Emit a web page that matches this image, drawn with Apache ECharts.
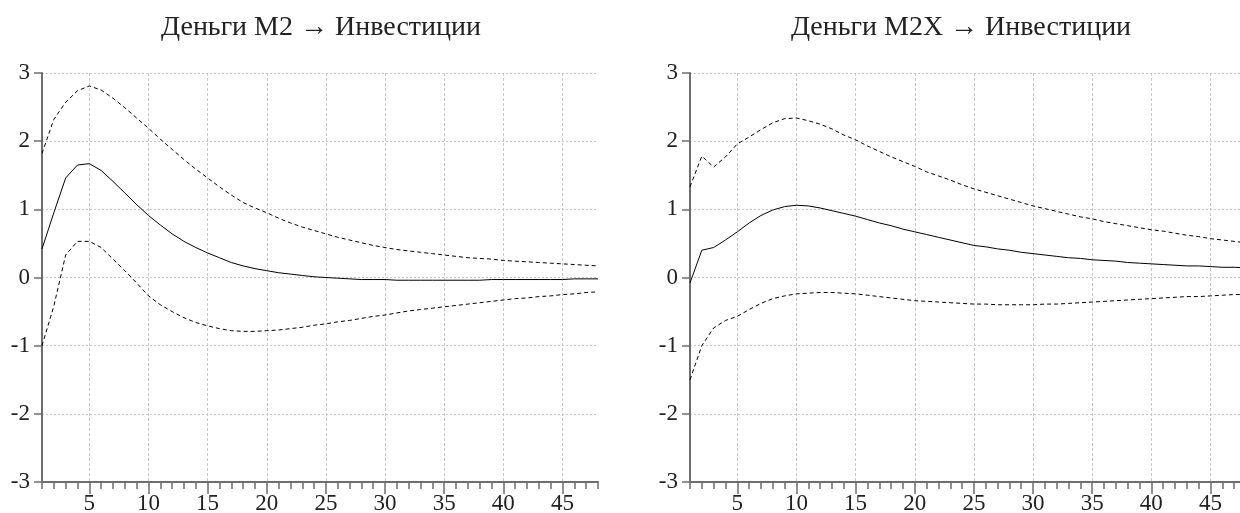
<!DOCTYPE html>
<html>
<head>
<meta charset="utf-8">
<script src="https://cdn.jsdelivr.net/npm/echarts@6/dist/echarts.min.js"></script>
<style>
html,body{margin:0;padding:0;background:#fff;}
#chart{width:1240px;height:513px;}
</style>
</head>
<body>
<div id="chart"></div>
<script>
const periods = ['1','2','3','4','5','6','7','8','9','10','11','12','13','14','15','16','17','18','19','20','21','22','23','24','25','26','27','28','29','30','31','32','33','34','35','36','37','38','39','40','41','42','43','44','45','46','47','48'];
const yTicks = [-3, -2, -1, 0, 1, 2, 3];

const titleLeft = 'Деньги M2 → Инвестиции';
const titleRight = 'Деньги M2X → Инвестиции';

// Left panel: M2 -> Investment
const m2Response = [0.42,0.95,1.46,1.65,1.67,1.57,1.41,1.24,1.07,0.91,0.77,0.64,0.53,0.44,0.36,0.29,0.22,0.17,0.13,0.10,0.07,0.05,0.03,0.01,0.00,-0.01,-0.02,-0.03,-0.03,-0.03,-0.04,-0.04,-0.04,-0.04,-0.04,-0.04,-0.04,-0.04,-0.03,-0.03,-0.03,-0.03,-0.03,-0.03,-0.03,-0.02,-0.02,-0.02];
const m2Upper = [1.82,2.32,2.57,2.74,2.81,2.75,2.63,2.49,2.34,2.19,2.03,1.88,1.73,1.59,1.46,1.33,1.21,1.10,1.02,0.95,0.87,0.80,0.74,0.69,0.64,0.59,0.55,0.51,0.47,0.44,0.41,0.39,0.37,0.35,0.33,0.31,0.29,0.28,0.27,0.25,0.24,0.23,0.22,0.21,0.20,0.19,0.18,0.17];
const m2Lower = [-1.00,-0.42,0.33,0.53,0.53,0.44,0.27,0.10,-0.08,-0.27,-0.40,-0.50,-0.59,-0.66,-0.71,-0.75,-0.78,-0.79,-0.79,-0.78,-0.77,-0.75,-0.73,-0.70,-0.68,-0.65,-0.63,-0.60,-0.57,-0.55,-0.52,-0.49,-0.47,-0.45,-0.43,-0.41,-0.39,-0.37,-0.35,-0.33,-0.31,-0.30,-0.28,-0.27,-0.25,-0.24,-0.22,-0.21];

// Right panel: M2X -> Investment
const m2xResponse = [-0.08,0.40,0.44,0.55,0.67,0.80,0.91,0.99,1.04,1.06,1.05,1.02,0.98,0.94,0.90,0.85,0.80,0.76,0.71,0.67,0.63,0.59,0.55,0.51,0.47,0.45,0.42,0.40,0.37,0.35,0.33,0.31,0.29,0.28,0.26,0.25,0.24,0.22,0.21,0.20,0.19,0.18,0.17,0.17,0.16,0.15,0.15,0.14];
const m2xUpper = [1.33,1.78,1.62,1.77,1.96,2.06,2.17,2.27,2.33,2.34,2.30,2.25,2.18,2.09,2.02,1.93,1.85,1.77,1.70,1.63,1.55,1.49,1.43,1.36,1.30,1.25,1.20,1.15,1.10,1.05,1.01,0.97,0.93,0.89,0.86,0.82,0.79,0.76,0.73,0.70,0.68,0.65,0.62,0.60,0.57,0.55,0.53,0.51];
const m2xLower = [-1.50,-1.00,-0.74,-0.63,-0.57,-0.47,-0.38,-0.31,-0.27,-0.24,-0.23,-0.22,-0.22,-0.23,-0.24,-0.26,-0.28,-0.30,-0.32,-0.34,-0.35,-0.36,-0.37,-0.38,-0.39,-0.39,-0.40,-0.40,-0.40,-0.40,-0.39,-0.39,-0.38,-0.37,-0.36,-0.35,-0.34,-0.33,-0.32,-0.31,-0.30,-0.29,-0.28,-0.28,-0.27,-0.26,-0.25,-0.25];

const FONT = "'Liberation Serif', 'Times New Roman', serif";
const AXIS_COLOR = '#6e6e6e';
const GRID_COLOR = '#c8c8c8';
const isMajor = (i) => (i + 1) % 5 === 0;

function mainX(gi) {
  return {
    type: 'category', gridIndex: gi, data: periods, boundaryGap: false, position: 'bottom',
    axisLine: { show: true, onZero: false, lineStyle: { color: AXIS_COLOR, width: 2 } },
    axisTick: { show: true, interval: 0, length: 7, lineStyle: { color: AXIS_COLOR, width: 1.5 } },
    axisLabel: { show: true, interval: isMajor, margin: 10, fontFamily: FONT, fontSize: 23, color: '#222', hideOverlap: false },
    splitLine: { show: true, interval: isMajor, lineStyle: { color: GRID_COLOR, width: 1, type: [3, 2] } }
  };
}
function majorX(gi) {
  return {
    type: 'category', gridIndex: gi, data: periods, boundaryGap: false, position: 'bottom',
    axisLine: { show: false, onZero: false },
    axisTick: { show: true, interval: isMajor, length: 12, lineStyle: { color: AXIS_COLOR, width: 1.5 } },
    axisLabel: { show: false },
    splitLine: { show: false }
  };
}
function yAx(gi) {
  return {
    type: 'value', gridIndex: gi, min: yTicks[0], max: yTicks[yTicks.length - 1], interval: 1,
    axisLine: { show: true, lineStyle: { color: AXIS_COLOR, width: 2 } },
    axisTick: { show: true, length: 8, lineStyle: { color: AXIS_COLOR, width: 1.5 } },
    axisLabel: { margin: 12, fontFamily: FONT, fontSize: 23, color: '#222' },
    splitLine: { show: true, lineStyle: { color: GRID_COLOR, width: 1, type: [2, 2] } }
  };
}
function line(data, xi, yi, dashed) {
  return {
    type: 'line', data: data, xAxisIndex: xi, yAxisIndex: yi, symbol: 'none', silent: true,
    lineStyle: { color: '#000', width: 1, type: dashed ? [4, 3] : 'solid' }, z: 5
  };
}

const chart = echarts.init(document.getElementById('chart'), null, { renderer: 'canvas' });
chart.setOption({
  animation: false,
  backgroundColor: '#fff',
  title: [
    { text: titleLeft, left: 316, top: 9, textAlign: 'center', textStyle: { fontFamily: FONT, fontSize: 28, fontWeight: 'normal', color: '#222' } },
    { text: titleRight, left: 956, top: 9, textAlign: 'center', textStyle: { fontFamily: FONT, fontSize: 28, fontWeight: 'normal', color: '#222' } }
  ],
  grid: [
    { left: 42, top: 73, width: 556, height: 409, containLabel: false, outerBoundsMode: 'none' },
    { left: 690, top: 73, width: 556, height: 409, containLabel: false, outerBoundsMode: 'none' }
  ],
  xAxis: [mainX(0), mainX(1), majorX(0), majorX(1)],
  yAxis: [yAx(0), yAx(1)],
  series: [
    line(m2Upper, 0, 0, true),
    line(m2Response, 0, 0, false),
    line(m2Lower, 0, 0, true),
    line(m2xUpper, 1, 1, true),
    line(m2xResponse, 1, 1, false),
    line(m2xLower, 1, 1, true)
  ]
});
</script>
</body>
</html>
